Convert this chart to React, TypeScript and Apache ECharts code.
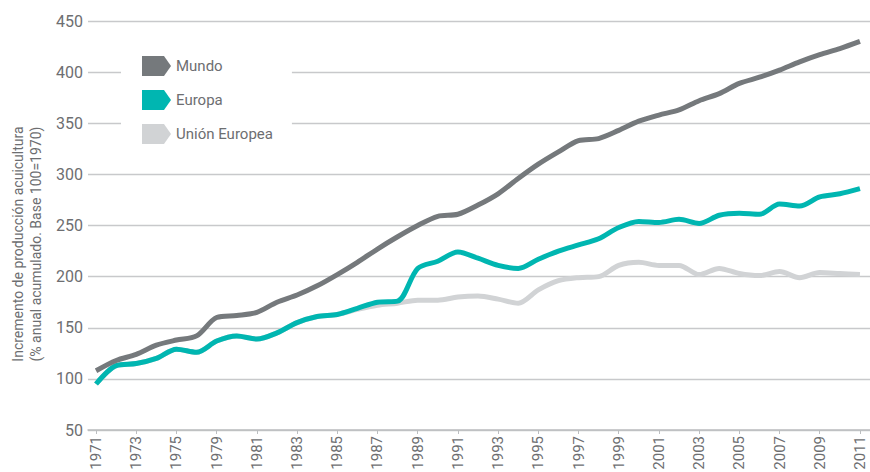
import React, { useEffect, useRef } from "react";
import * as echarts from "echarts";

const years = [
  "1971", "1972", "1973", "1974", "1975", "1977", "1979", "1980", "1981", "1982",
  "1983", "1984", "1985", "1986", "1987", "1988", "1989", "1990", "1991", "1992",
  "1993", "1994", "1995", "1996", "1997", "1998", "1999", "2000", "2001", "2002",
  "2003", "2004", "2005", "2006", "2007", "2008", "2009", "2010", "2011",
];

const tickLabels = [
  "1971", "1973", "1975", "1979", "1981", "1983", "1985", "1987", "1989", "1991",
  "1993", "1995", "1997", "1999", "2001", "2003", "2005", "2007", "2009", "2011",
];

const mundo = [
  108, 118, 124, 133, 138, 142, 160, 162, 165, 175,
  182, 191, 202, 214, 227, 239, 250, 259, 261, 270,
  281, 296, 310, 322, 333, 335, 343, 352, 358, 363,
  372, 379, 389, 395, 402, 410, 417, 423, 430,
];

const europa = [
  95, 113, 115, 120, 129, 126, 137, 142, 139, 145,
  155, 161, 163, 169, 175, 176, 208, 215, 224, 218,
  211, 208, 217, 225, 231, 237, 248, 254, 253, 256,
  252, 260, 262, 261, 271, 269, 278, 281, 286,
];

const unionEuropea = [
  95, 113, 115, 120, 129, 126, 137, 142, 139, 145,
  155, 161, 163, 168, 172, 174, 177, 177, 180, 181,
  178, 174, 187, 196, 199, 200, 211, 214, 211, 211,
  202, 208, 203, 201, 205, 199, 204, 203, 202,
];

const seriesNames = ["Mundo", "Europa", "Unión Europea"];
const colors = ["#75797c", "#00b6b1", "#d1d3d5"];

const yTitle = "Incremento de producción acuicultura\n(% anual acumulado. Base 100=1970)";

const FONT = "Roboto, 'Liberation Sans', sans-serif";
const TEXT_COLOR = "#6d6e71";

export default function App() {
  const ref = useRef<HTMLDivElement>(null);

  useEffect(() => {
    if (!ref.current) return;
    const chart = echarts.init(ref.current, undefined, { renderer: "svg" });
    const tickValues = tickLabels.map((_, i) => i * 2);
    const toPairs = (arr: number[]) => years.map((_, i) => [i, arr[i]]);
    const dataSets = [mundo, europa, unionEuropea];

    const series = [2, 1, 0].map((k) => ({
      name: seriesNames[k],
      type: "line",
      data: toPairs(dataSets[k]),
      smooth: 0.3,
      symbol: "none",
      lineStyle: { width: 5, color: colors[k] },
      itemStyle: { color: colors[k] },
      z: 3 + (2 - k),
    }));

    chart.setOption({
      animation: false,
      textStyle: { fontFamily: FONT },
      grid: {
        left: 88,
        right: 0,
        top: 21,
        bottom: 42,
        containLabel: false,
        outerBoundsMode: "none",
      },
      legend: {
        data: seriesNames.map((n, i) => ({
          name: n,
          icon: "path://M0,0L22,0L29,10L22,20L0,20Z",
          itemStyle: { color: colors[i] },
        })),
        orient: "vertical",
        left: 121,
        top: 44,
        padding: [12, 19, 12, 21],
        backgroundColor: "#ffffff",
        itemWidth: 29,
        itemHeight: 20,
        itemGap: 14,
        selectedMode: false,
        textStyle: { fontFamily: FONT, fontSize: 15, color: TEXT_COLOR },
        z: 10,
      },
      xAxis: {
        type: "value",
        min: -0.4,
        max: 38.5,
        axisLine: { show: true, lineStyle: { color: "#bcbec0", width: 1.5 } },
        axisTick: {
          show: true,
          customValues: tickValues,
          length: 4,
          lineStyle: { color: "#bcbec0", width: 1 },
        },
        axisLabel: {
          customValues: tickValues,
          formatter: (v: number) => tickLabels[Math.round(v / 2)] ?? "",
          rotate: 90,
          margin: 6,
          fontSize: 15,
          color: TEXT_COLOR,
          fontFamily: FONT,
        },
        splitLine: { show: false },
      },
      yAxis: {
        type: "value",
        min: 50,
        max: 450,
        interval: 50,
        axisLine: { show: false },
        axisTick: { show: false },
        axisLabel: { fontSize: 16, color: TEXT_COLOR, margin: 5, fontFamily: FONT },
        splitLine: { lineStyle: { color: "#c8c9cb", width: 1.3 } },
      },
      graphic: [
        {
          type: "text",
          x: 27,
          y: 244,
          rotation: Math.PI / 2,
          style: {
            text: yTitle,
            fontSize: 14,
            lineHeight: 18,
            fill: TEXT_COLOR,
            fontFamily: FONT,
            align: "center",
            verticalAlign: "middle",
          },
        },
      ],
      series,
    });

    return () => chart.dispose();
  }, []);

  return <div ref={ref} style={{ width: 870, height: 472, position: "absolute", left: 0, top: 0 }} />;
}
